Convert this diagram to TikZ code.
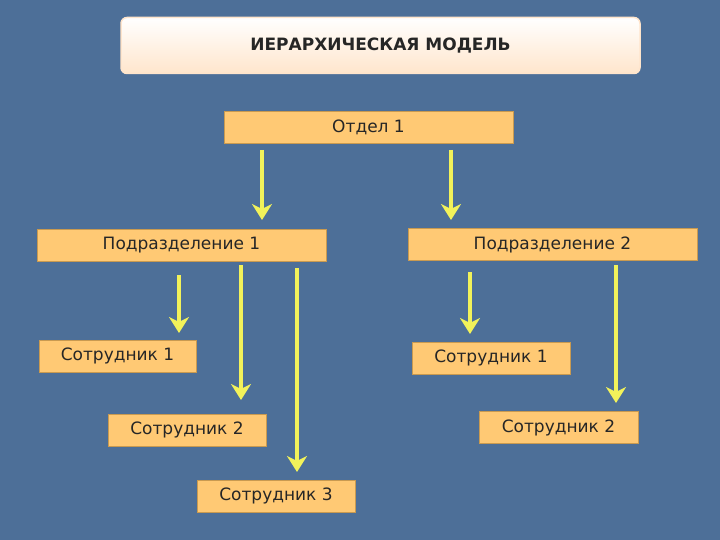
\documentclass[tikz,border=0pt]{standalone}
\usepackage{fontspec}
\setmainfont{DejaVu Sans}
\usetikzlibrary{arrows.meta}
\definecolor{bg}{HTML}{4D6F98}
\definecolor{boxc}{HTML}{FFC974}
\definecolor{boxb}{HTML}{C99A50}
\definecolor{arr}{HTML}{F2F25A}
\begin{document}
\begin{tikzpicture}[x=1pt,y=-1pt,
 box/.style={draw=boxb,fill=boxc,line width=0.8pt,minimum height=32pt,inner sep=0pt,font=\fontsize{17}{19}\selectfont,text=black!85},
 arrw/.style={draw=arr,line width=3.5pt,-{Stealth[length=16pt,width=20pt,inset=5pt]}}]
\fill[bg] (0,0) rectangle (720,540);
\useasboundingbox (0,0) rectangle (720,540);
\node[draw=white!80!orange,line width=1.5pt,rounded corners=6pt,top color=white,bottom color=orange!20,minimum width=519pt,minimum height=56pt,font=\bfseries\fontsize{17}{19}\selectfont,text=black!85] (t) at (380.5,45.5) {ИЕРАРХИЧЕСКАЯ МОДЕЛЬ};
\node[box,minimum width=289pt] (o) at (368.5,127) {Отдел 1};
\node[box,minimum width=289pt] (p1) at (181.5,245) {Подразделение 1};
\node[box,minimum width=289pt] (p2) at (552.5,244.5) {Подразделение 2};
\node[box,minimum width=157pt] (s11) at (117.5,356) {Сотрудник 1};
\node[box,minimum width=158pt] (s21) at (491,358) {Сотрудник 1};
\node[box,minimum width=158pt] (s12) at (187,430) {Сотрудник 2};
\node[box,minimum width=159pt] (s22) at (558.5,427.5) {Сотрудник 2};
\node[box,minimum width=158pt] (s13) at (276,496) {Сотрудник 3};
\coordinate (a1) at (262,150); \coordinate (b1) at (262,220);
\coordinate (a2) at (451,150); \coordinate (b2) at (451,220);
\coordinate (a3) at (179,275); \coordinate (b3) at (179,333);
\coordinate (a4) at (241,265); \coordinate (b4) at (241,400);
\coordinate (a5) at (297,268); \coordinate (b5) at (297,472);
\coordinate (a6) at (470,272); \coordinate (b6) at (470,334);
\coordinate (a7) at (616,265); \coordinate (b7) at (616,403);
\foreach \i in {1,...,7} \draw[arrw] (a\i) -- (b\i);
\end{tikzpicture}
\end{document}
